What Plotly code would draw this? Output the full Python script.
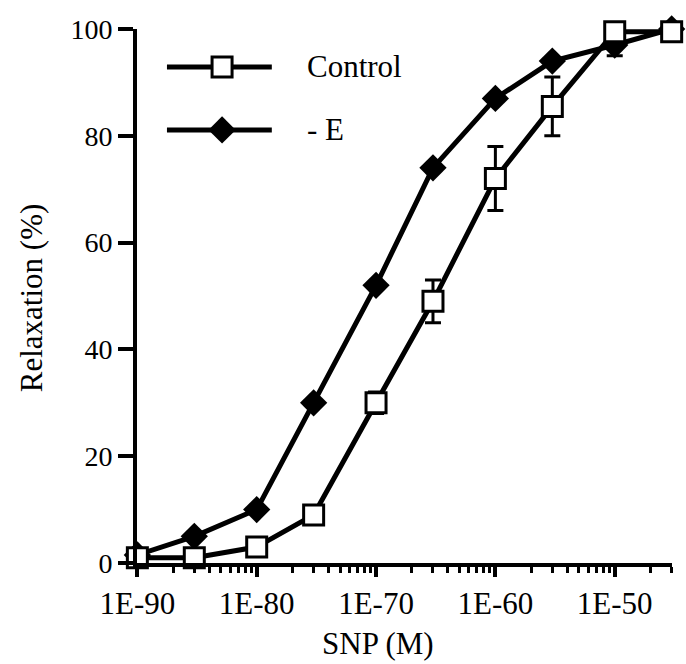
import plotly.graph_objects as go

# Data
concentration = [1e-9, 3e-9, 1e-8, 3e-8, 1e-7, 3e-7, 1e-6, 3e-6, 1e-5, 3e-5]
control = [1, 1, 3, 9, 30, 49, 72, 85.5, 99.5, 99.5]
control_err = [0, 0, 0.5, 1, 2, 4, 6, 5.5, 1, 0]
minus_e = [1.5, 5, 10, 30, 52, 74, 87, 94, 97, 100]
minus_e_err = [0, 0, 0, 0, 0, 0, 0, 0, 2, 0]
tick_vals = [1e-9, 1e-8, 1e-7, 1e-6, 1e-5]
tick_text = ["1E-90", "1E-80", "1E-70", "1E-60", "1E-50"]
legend_names = ["Control", "- E"]

FONT = "Liberation Serif, Times New Roman, DejaVu Serif, serif"
FS = 31

fig = go.Figure()

fig.add_trace(go.Scatter(
    x=concentration, y=minus_e, mode="lines+markers", name=legend_names[1],
    line=dict(color="black", width=5),
    marker=dict(symbol="diamond", size=21, color="black", line=dict(width=0)),
    error_y=dict(type="data", array=minus_e_err, color="black", thickness=3, width=8),
    cliponaxis=False, showlegend=False,
))
fig.add_trace(go.Scatter(
    x=concentration, y=control, mode="lines+markers", name=legend_names[0],
    line=dict(color="black", width=5),
    marker=dict(symbol="square", size=20, color="white", line=dict(width=3, color="black")),
    error_y=dict(type="data", array=control_err, color="black", thickness=3, width=8),
    cliponaxis=False, showlegend=False,
))

# Legend drawn on an overlay axis
leg_rows = [(0.929, "square", "white", 20, 3, legend_names[0]),
            (0.811, "diamond", "black", 21, 0, legend_names[1])]
for yy, sym, fill, sz, lw, name in leg_rows:
    fig.add_trace(go.Scatter(
        x=[0.056, 0.252], y=[yy, yy], mode="lines", xaxis="x2", yaxis="y2",
        line=dict(color="black", width=5), showlegend=False, hoverinfo="skip",
    ))
    fig.add_trace(go.Scatter(
        x=[0.159], y=[yy], mode="markers", xaxis="x2", yaxis="y2",
        marker=dict(symbol=sym, size=sz, color=fill, line=dict(width=lw, color="black")),
        showlegend=False, hoverinfo="skip",
    ))
    fig.add_annotation(x=0.314, y=yy, xref="x2", yref="y2", text=name,
                       showarrow=False, xanchor="left", yanchor="middle",
                       font=dict(family=FONT, size=FS, color="black"))

# Axis titles as annotations
fig.add_annotation(x=0.450, y=-0.150, xref="paper", yref="paper", text="SNP (M)",
                   showarrow=False, xanchor="center", yanchor="middle",
                   font=dict(family=FONT, size=FS, color="black"))
fig.add_annotation(x=-0.198, y=0.496, xref="paper", yref="paper", text="Relaxation (%)",
                   showarrow=False, xanchor="center", yanchor="middle", textangle=-90,
                   font=dict(family=FONT, size=FS, color="black"))

fig.update_layout(
    width=686, height=664,
    margin=dict(l=137, r=14, t=29, b=101, autoexpand=False),
    paper_bgcolor="white", plot_bgcolor="white",
    font=dict(family=FONT, size=FS, color="black"),
    xaxis=dict(
        type="log", range=[-9.003, -4.52],
        tickvals=tick_vals, ticktext=tick_text,
        ticks="outside", ticklen=10, tickwidth=4, tickcolor="black",
        minor=dict(ticks="outside", ticklen=6, tickwidth=3, tickcolor="black", dtick="D1"),
        showline=True, linewidth=4, linecolor="black",
        showgrid=False, zeroline=False, automargin=False,
        tickfont=dict(family=FONT, size=31),
    ),
    yaxis=dict(
        range=[0, 100], tickvals=[0, 20, 40, 60, 80, 100],
        ticks="outside", ticklen=15, tickwidth=4, tickcolor="black",
        showline=True, linewidth=4, linecolor="black",
        showgrid=False, zeroline=False, automargin=False,
        tickfont=dict(family=FONT, size=28),
    ),
    xaxis2=dict(domain=[0, 1], range=[0, 1], overlaying="x", visible=False),
    yaxis2=dict(domain=[0, 1], range=[0, 1], overlaying="y", visible=False),
)

fig.write_html("out.html", config={"displayModeBar": False},
               post_script="document.body.style.margin='0px';")
